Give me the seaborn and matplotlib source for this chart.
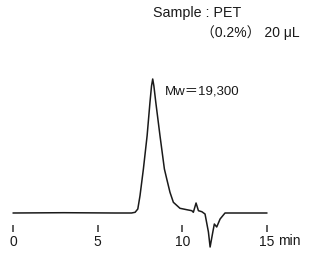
import matplotlib
matplotlib.use("Agg")
import matplotlib.pyplot as plt
import seaborn as sns
import pandas as pd

# Chromatogram trace (time in min, detector response in arbitrary units)
time_min = [0.0, 3.0, 6.0, 7.0, 7.21, 7.37, 7.50, 7.70, 7.92, 8.09, 8.18, 8.25, 8.32,
            8.43, 8.68, 8.94, 9.08, 9.27, 9.47, 9.86, 10.26, 10.56, 10.65, 10.81,
            10.95, 11.15, 11.34, 11.54, 11.64, 11.80, 11.89, 12.03, 12.23, 12.52,
            13.5, 15.0]
response = [0.0, 0.3, 0.0, 0.0, 0.7, 4.0, 17.3, 44.0, 77.3, 111.0, 127.0, 134.0, 127.0,
            111.0, 77.3, 44.0, 34.0, 20.7, 10.7, 4.7, 3.3, 2.3, 0.7, 10.0,
            2.3, 1.3, -1.0, -19.0, -34.0, -19.0, -11.0, -14.0, -6.0, 0.0,
            0.0, 0.0]
tick_values = [0, 5, 10, 15]
tick_labels = ["0", "5", "10", "15"]

df = pd.DataFrame({"t": time_min, "r": response})

sns.set_style("white")
plt.rcParams["font.family"] = ["Liberation Sans", "Noto Sans CJK JP", "DejaVu Sans"]

fig = plt.figure(figsize=(3.09, 2.55), dpi=100)
ax = fig.add_axes([0, 29 / 255, 1, 226 / 255])
sns.lineplot(data=df, x="t", y="r", ax=ax, color="#1a1a1a", linewidth=1.1,
             estimator=None, sort=False)
for line in ax.get_lines():
    line.set_clip_on(False)

ax.set_xlim(-0.768, 17.48)
ax.set_ylim(-12, 214)
for s in ax.spines.values():
    s.set_visible(False)
ax.set_xticks(tick_values)
ax.set_xticklabels(tick_labels)
ax.tick_params(axis="x", direction="out", length=5, width=1.1, pad=1.5,
               labelsize=10, color="#333333", labelcolor="#1a1a1a",
               bottom=True, labelbottom=True)
ax.set_yticks([])
ax.set_xlabel("")
ax.set_ylabel("")

ax.annotate("min", xy=(15, 0), xycoords=ax.get_xaxis_transform(),
            xytext=(8, -13.6), textcoords="offset points", ha="left", va="baseline",
            fontsize=10, color="#1a1a1a")

fig.text(153 / 309, 1 - 13 / 255, "Sample : PET", ha="left", va="center",
         fontsize=10.3, color="#1a1a1a")
fig.text(201 / 309, 1 - 33 / 255, "（0.2%） 20 μL", ha="left", va="center",
         fontsize=10, color="#1a1a1a")
fig.text(165 / 309, 1 - 91 / 255, "Mw＝19,300", ha="left", va="center",
         fontsize=9.5, color="#1a1a1a")

fig.savefig("out.png", dpi=100)
